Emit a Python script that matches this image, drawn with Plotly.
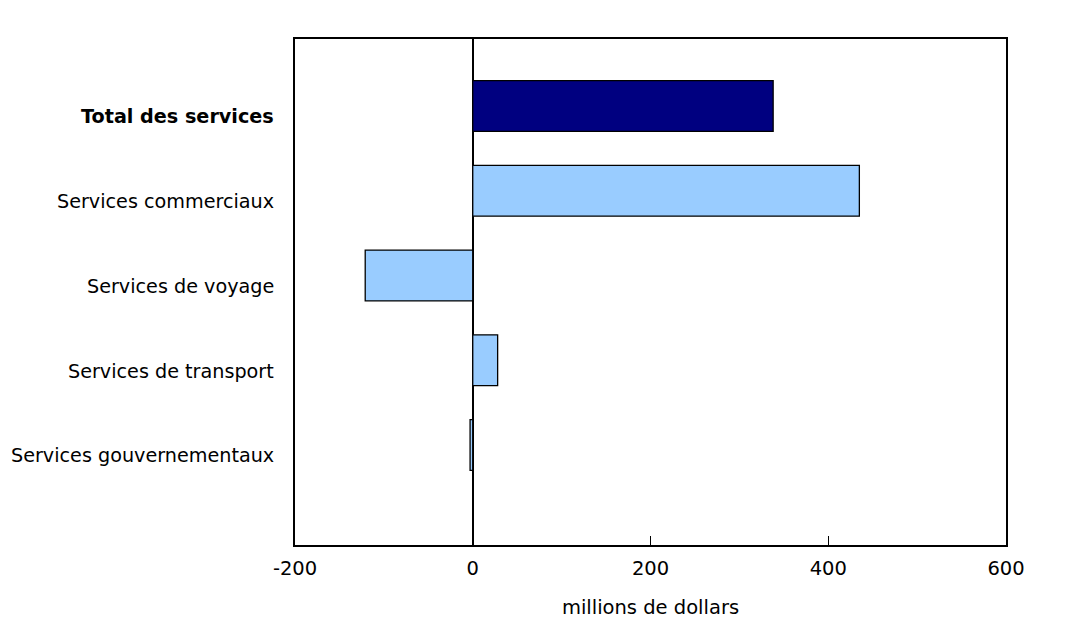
import plotly.graph_objects as go

categories = [
    "<b>Total des services</b>",
    "Services commerciaux",
    "Services de voyage",
    "Services de transport",
    "Services gouvernementaux",
]
values = [338, 435, -121, 28, -3]
bar_colors = ["#000080", "#99ccff", "#99ccff", "#99ccff", "#99ccff"]
x_ticks = [-200, 0, 200, 400, 600]
x_tick_labels = [str(v) for v in x_ticks]

FONT = "DejaVu Sans, Verdana, sans-serif"
SIZE = 19.5
LABEL_SIZE = 19.2

fig = go.Figure()
fig.add_trace(go.Bar(
    y=categories, x=values, orientation="h",
    marker=dict(color=bar_colors, line=dict(color="#000000", width=1.3)),
    width=0.6, hoverinfo="x+y",
))

# category labels sit a little below the bar centres in the original
for cat in categories:
    fig.add_annotation(
        xref="paper", yref="y", x=0, y=cat, text=cat, showarrow=False,
        xanchor="right", yanchor="middle", xshift=-19, yshift=-11,
        font=dict(family=FONT, size=LABEL_SIZE, color="#000000"),
    )

fig.update_layout(
    width=1083, height=625,
    paper_bgcolor="white", plot_bgcolor="white",
    margin=dict(l=287, r=85, t=31, b=88),
    font=dict(family=FONT, size=SIZE, color="#000000"),
    showlegend=False,
)
fig.update_xaxes(
    range=[-200, 600], tickvals=x_ticks, ticktext=x_tick_labels,
    ticks="inside", ticklen=9, tickcolor="#000000", tickwidth=1.3,
    ticklabelstandoff=5,
    showgrid=False, zeroline=True, zerolinecolor="#000000", zerolinewidth=1.5,
    showline=True, linecolor="#000000", linewidth=1.5, mirror=True,
    title=dict(text="millions de dollars", standoff=21, font=dict(size=SIZE)),
    tickfont=dict(size=SIZE),
)
fig.update_yaxes(
    type="category", categoryorder="array", categoryarray=categories,
    range=[5.18, -0.79], showgrid=False, showticklabels=False,
    showline=True, linecolor="#000000", linewidth=1.5, mirror=True,
    ticks="",
)

fig.write_html("out.html")
